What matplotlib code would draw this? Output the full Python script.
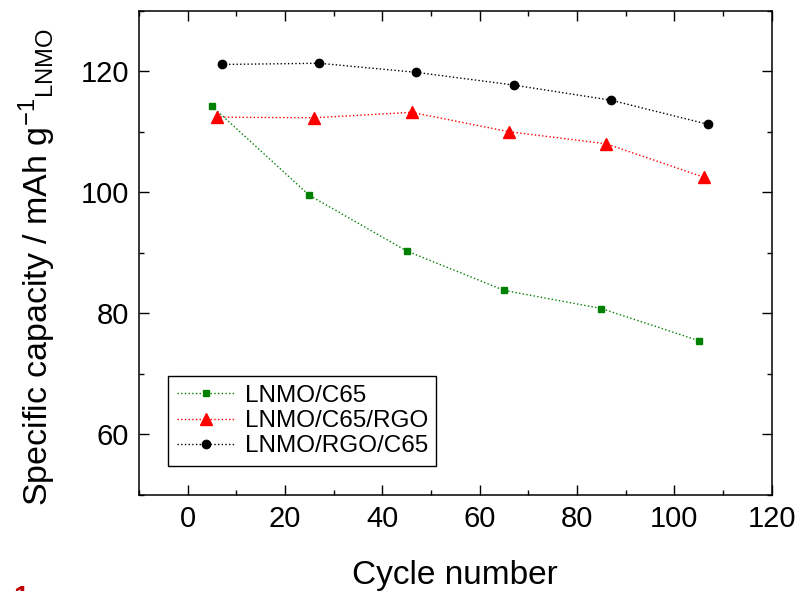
import numpy as np
import matplotlib.pyplot as plt

plt.rcParams['font.family'] = ['Liberation Sans', 'DejaVu Sans']
plt.rcParams['mathtext.fontset'] = 'custom'
plt.rcParams['mathtext.rm'] = 'Liberation Sans'
plt.rcParams['mathtext.it'] = 'Liberation Sans:italic'

# data
cyc_c65 = [5, 25, 45, 65, 85, 105]
cap_c65 = [114.2, 99.5, 90.3, 83.8, 80.8, 75.5]

cyc_c65_rgo = [6, 26, 46, 66, 86, 106]
cap_c65_rgo = [112.4, 112.3, 113.2, 110.0, 108.0, 102.5]

cyc_rgo_c65 = [7, 27, 47, 67, 87, 107]
cap_rgo_c65 = [121.1, 121.3, 119.8, 117.7, 115.2, 111.2]

labels = ["LNMO/C65", "LNMO/C65/RGO", "LNMO/RGO/C65"]

fig = plt.figure(figsize=(8.08, 5.91), dpi=100)
ax = fig.add_axes([0.172, 0.1624, 0.783, 0.8197])

ax.plot(cyc_c65, cap_c65, ls=':', lw=1, color='#008000', marker='s', ms=5,
        label=labels[0])
ax.plot(cyc_c65_rgo, cap_c65_rgo, ls=':', lw=1, color='#ff0000', marker='^', ms=9,
        label=labels[1])
ax.plot(cyc_rgo_c65, cap_rgo_c65, ls=':', lw=1, color='black', marker='o', ms=6,
        label=labels[2])

ax.set_xlim(-10, 120)
ax.set_ylim(50, 130)
ax.set_xticks(np.arange(0, 121, 20))
ax.set_xticks(np.arange(-10, 121, 10), minor=True)
ax.set_yticks(np.arange(60, 121, 20))
ax.set_yticks(np.arange(50, 131, 10), minor=True)

ax.tick_params(which='both', direction='in', top=True, right=True, width=1)
ax.tick_params(which='major', length=7, labelsize=21)
ax.tick_params(axis='x', which='major', pad=7)
ax.tick_params(axis='y', which='major', pad=7)
ax.tick_params(which='minor', length=3.5)
for s in ax.spines.values():
    s.set_linewidth(1.1)

ax.set_xlabel("Cycle number", fontsize=24)
ax.xaxis.set_label_coords(0.5, -0.134)
ax.set_ylabel(r"Specific capacity / mAh g$^{-1}$$_{\mathrm{LNMO}}$", fontsize=24.5)
ax.yaxis.set_label_coords(-0.128, 0.47)

leg = ax.legend(loc='lower left', bbox_to_anchor=(0.046, 0.06), borderaxespad=0,
                fontsize=17.5, fancybox=False, edgecolor='black', framealpha=1,
                handlelength=2.4, handletextpad=0.4, borderpad=0.35,
                labelspacing=0.14)
leg.get_frame().set_linewidth(1)

# stray red mark in the bottom-left corner of the original
fig.text(0.016, -0.024, "1", color='#c00000', fontsize=20, fontweight='bold',
         va='baseline')

fig.savefig("out.png", dpi=100)
